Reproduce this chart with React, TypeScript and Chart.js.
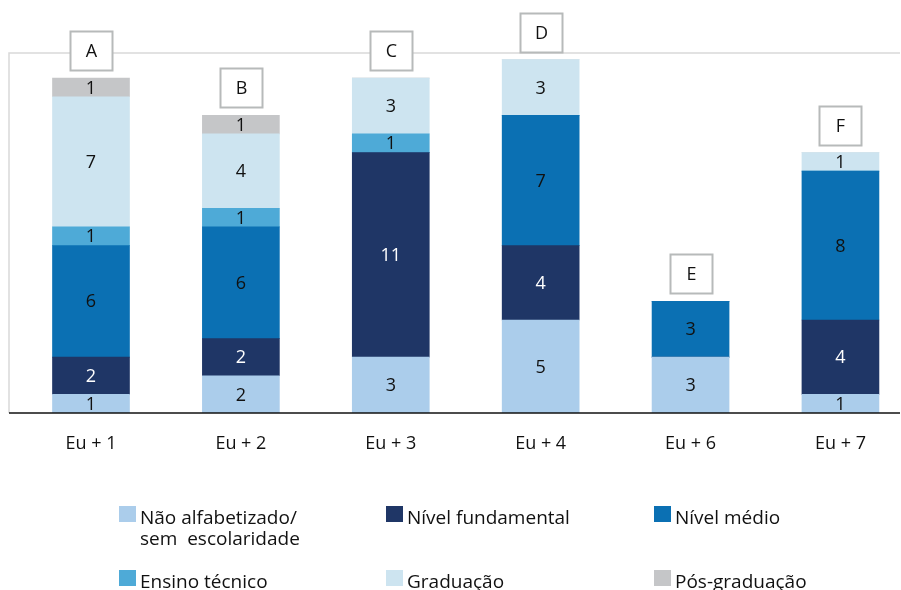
import React, { useEffect, useRef } from "react";
import { Chart, registerables } from "chart.js";

Chart.register(...registerables);

// Categories along the x axis and the letter tag placed above each stack
const categories = ["Eu + 1", "Eu + 2", "Eu + 3", "Eu + 4", "Eu + 6", "Eu + 7"];
const tagLetters = ["A", "B", "C", "D", "E", "F"];

// Stacked series, bottom to top
const naoAlfabetizado = [1, 2, 3, 5, 3, 1];
const nivelFundamental = [2, 2, 11, 4, 0, 4];
const nivelMedio = [6, 6, 0, 7, 3, 8];
const ensinoTecnico = [1, 1, 1, 0, 0, 0];
const graduacao = [7, 4, 3, 3, 0, 1];
const posGraduacao = [1, 1, 0, 0, 0, 0];

const seriesLabels = [
  ["Não alfabetizado/", "sem  escolaridade"],
  ["Nível fundamental"],
  ["Nível médio"],
  ["Ensino técnico"],
  ["Graduação"],
  ["Pós-graduação"],
];
const seriesValues = [naoAlfabetizado, nivelFundamental, nivelMedio, ensinoTecnico, graduacao, posGraduacao];
const seriesColors = ["#abcdeb", "#1f3666", "#0b70b3", "#4eaad7", "#cde4f0", "#c5c6c8"];
const labelColors = ["#111111", "#ffffff", "#111111", "#111111", "#111111", "#111111"];

const FONT = "'Open Sans', 'Noto Sans', sans-serif";

// Light frame on top/left, dark baseline at the bottom
const framePlugin = {
  id: "frame",
  beforeDatasetsDraw(chart: any) {
    const { ctx, chartArea } = chart;
    ctx.save();
    ctx.strokeStyle = "#d9d9d9";
    ctx.lineWidth = 1.5;
    ctx.beginPath();
    ctx.moveTo(chartArea.left, chartArea.bottom);
    ctx.lineTo(chartArea.left, chartArea.top);
    ctx.lineTo(chartArea.right - 1, chartArea.top);
    ctx.stroke();
    ctx.restore();
  },
  afterDatasetsDraw(chart: any) {
    const { ctx, chartArea } = chart;
    ctx.save();
    ctx.strokeStyle = "#111111";
    ctx.lineWidth = 1.5;
    ctx.beginPath();
    ctx.moveTo(chartArea.left, chartArea.bottom);
    ctx.lineTo(chartArea.right - 1, chartArea.bottom);
    ctx.stroke();
    ctx.restore();
  },
};

// Value written in the middle of every segment
const valueLabelPlugin = {
  id: "valueLabels",
  afterDatasetsDraw(chart: any) {
    const { ctx } = chart;
    ctx.save();
    ctx.font = `18px ${FONT}`;
    ctx.textAlign = "center";
    ctx.textBaseline = "middle";
    chart.data.datasets.forEach((ds: any, di: number) => {
      const meta = chart.getDatasetMeta(di);
      meta.data.forEach((el: any, i: number) => {
        const v = ds.data[i];
        if (!v) return;
        ctx.fillStyle = labelColors[di];
        ctx.fillText(String(v), el.x, (el.y + el.base) / 2 + 1);
      });
    });
    ctx.restore();
  },
};

// Boxed letter above each stack
const tagPlugin = {
  id: "tags",
  afterDatasetsDraw(chart: any) {
    const { ctx, scales } = chart;
    const meta0 = chart.getDatasetMeta(0);
    ctx.save();
    categories.forEach((_, i) => {
      const total = seriesValues.reduce((s, arr) => s + arr[i], 0);
      const x = meta0.data[i].x;
      const top = scales.y.getPixelForValue(total);
      const w = 42;
      const h = 39;
      const bx = Math.round(x - w / 2) + 0.5;
      const by = Math.round(top - 8 - h) + 0.5;
      ctx.fillStyle = "#ffffff";
      ctx.fillRect(bx, by, w, h);
      ctx.strokeStyle = "#b7baba";
      ctx.lineWidth = 2;
      ctx.strokeRect(bx, by, w, h);
      ctx.fillStyle = "#111111";
      ctx.font = `18px ${FONT}`;
      ctx.textAlign = "center";
      ctx.textBaseline = "middle";
      ctx.fillText(tagLetters[i], bx + w / 2, by + h / 2 + 1);
    });
    ctx.restore();
  },
};

// Legend in a 3 x 2 grid below the axis
const legendPlugin = {
  id: "gridLegend",
  afterDraw(chart: any) {
    const { ctx } = chart;
    const colX = [119, 386, 654];
    const rowY = [506, 570];
    ctx.save();
    ctx.font = `19px ${FONT}`;
    ctx.textAlign = "left";
    ctx.textBaseline = "alphabetic";
    seriesLabels.forEach((lines, i) => {
      const x = colX[i % 3];
      const y = rowY[Math.floor(i / 3)];
      ctx.fillStyle = seriesColors[i];
      ctx.fillRect(x, y, 17, 16);
      ctx.fillStyle = "#111111";
      lines.forEach((line, li) => {
        ctx.fillText(line, x + 21, y + 18 + li * 21);
      });
    });
    ctx.restore();
  },
};

export default function App() {
  const canvasRef = useRef<HTMLCanvasElement | null>(null);

  useEffect(() => {
    if (!canvasRef.current) return;
    const chart = new Chart(canvasRef.current, {
      type: "bar",
      data: {
        labels: categories.map((_, i) => i),
        datasets: seriesValues.map((values, i) => ({
          label: seriesLabels[i].join(" "),
          data: values,
          backgroundColor: seriesColors[i],
          borderWidth: 0,
          barThickness: 77,
        })),
      },
      options: {
        animation: false,
        responsive: false,
        devicePixelRatio: 1,
        layout: { padding: { top: 53, left: 9, right: 0, bottom: 0 } },
        plugins: {
          legend: { display: false },
          tooltip: { enabled: false },
        },
        scales: {
          x: {
            type: "linear",
            stacked: true,
            offset: false,
            min: -0.547,
            max: 5.404,
            grid: { display: false, drawTicks: false, offset: false },
            border: { display: false },
            afterBuildTicks: (scale: any) => {
              scale.ticks = categories.map((_, i) => ({ value: i }));
            },
            afterFit: (scale: any) => {
              scale.height = 590 - 413;
            },
            ticks: {
              autoSkip: false,
              maxRotation: 0,
              padding: 20,
              color: "#111111",
              font: { family: FONT, size: 18 },
              callback: (v: any) => categories[v as number] ?? "",
            },
          },
          y: {
            stacked: true,
            display: false,
            min: 0,
            max: 19.35,
          },
        },
      },
      plugins: [framePlugin, valueLabelPlugin, tagPlugin, legendPlugin],
    });
    return () => chart.destroy();
  }, []);

  return (
    <div style={{ position: "fixed", left: 0, top: 0, width: 901, height: 590, background: "#ffffff" }}>
      <canvas ref={canvasRef} width={901} height={590} style={{ display: "block" }} />
    </div>
  );
}
